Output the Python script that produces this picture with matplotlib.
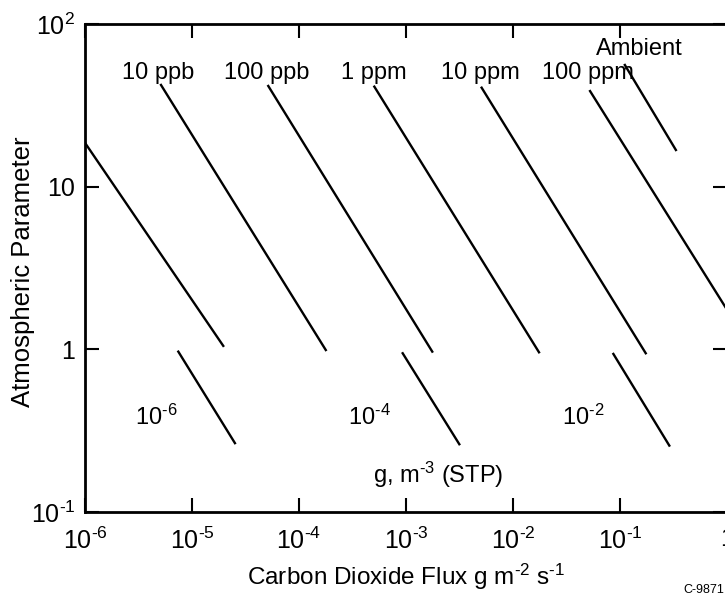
import matplotlib
matplotlib.use("Agg")
import matplotlib.pyplot as plt

plt.rcParams['font.family'] = ['Liberation Sans', 'DejaVu Sans']
plt.rcParams['mathtext.fontset'] = 'custom'
plt.rcParams['mathtext.rm'] = 'Liberation Sans'
plt.rcParams['mathtext.it'] = 'Liberation Sans'
plt.rcParams['mathtext.default'] = 'regular'

H = '\u2010'  # plain hyphen in the exponents, like the original

# mixing-ratio lines (flux vs atmospheric parameter), endpoints
ppm_x0 = [1.0e-6, 5.13e-6, 5.16e-5, 5.06e-4, 5.09e-3, 5.25e-2, 0.111]
ppm_y0 = [18.6, 42.2, 41.6, 41.2, 40.6, 38.7, 56.0]
ppm_x1 = [1.96e-5, 1.78e-4, 1.76e-3, 1.75e-2, 0.174, 1.81, 0.333]
ppm_y1 = [1.05, 0.99, 0.968, 0.959, 0.946, 0.94, 16.8]
ppm_labels = ['10 ppb', '100 ppb', '1 ppm', '10 ppm', '100 ppm', 'Ambient']
ppm_label_x = [4.8e-6, 5.0e-5, 5.0e-4, 5.0e-3, 5.0e-2, 0.15]
ppm_label_y = [50, 50, 50, 50, 50, 70]

# concentration lines, g m^-3 (STP)
conc_x0 = [7.45e-6, 9.31e-4, 8.67e-2]
conc_y0 = [0.968, 0.946, 0.937]
conc_x1 = [2.52e-5, 3.15e-3, 0.289]
conc_y1 = [0.265, 0.261, 0.256]
conc_labels = ['$10^{%s6}$' % H, '$10^{%s4}$' % H, '$10^{%s2}$' % H]
conc_label_x = [4.6e-6, 4.5e-4, 4.5e-2]
conc_label_y = [0.38, 0.38, 0.38]

xticks = [1e-6, 1e-5, 1e-4, 1e-3, 1e-2, 1e-1, 1]
xticklabels = ['$10^{%s6}$' % H, '$10^{%s5}$' % H, '$10^{%s4}$' % H, '$10^{%s3}$' % H,
               '$10^{%s2}$' % H, '$10^{%s1}$' % H, '1']
yticks = [0.1, 1, 10, 100]
yticklabels = ['$10^{%s1}$' % H, '1', '10', '$10^{2}$']

fig = plt.figure(figsize=(7.25, 6.06), dpi=100)
ax = fig.add_axes([85 / 725, 1 - 512 / 606, 642 / 725, 488 / 606])
ax.set_xscale('log')
ax.set_yscale('log')
ax.set_xlim(1e-6, 1)
ax.set_ylim(0.1, 100)

for i in range(len(ppm_x0)):
    ax.plot([ppm_x0[i], ppm_x1[i]], [ppm_y0[i], ppm_y1[i]], color='black', lw=1.7)
for i in range(len(conc_x0)):
    ax.plot([conc_x0[i], conc_x1[i]], [conc_y0[i], conc_y1[i]], color='black', lw=1.7)

for lab, x, y in zip(ppm_labels, ppm_label_x, ppm_label_y):
    ax.text(x, y, lab, ha='center', va='center', fontsize=17)
for lab, x, y in zip(conc_labels, conc_label_x, conc_label_y):
    ax.text(x, y, lab, ha='center', va='center', fontsize=17)
ax.text(2.0e-3, 0.168, 'g, m$^{%s3}$ (STP)' % H, ha='center', va='center', fontsize=17)

ax.set_xticks(xticks)
ax.set_xticklabels(xticklabels)
ax.set_yticks(yticks)
ax.set_yticklabels(yticklabels)
ax.minorticks_off()
ax.tick_params(direction='in', length=10, width=1.5, labelsize=18,
               top=True, right=True)
ax.tick_params(axis='x', pad=11)
ax.tick_params(axis='y', pad=7)
for s in ax.spines.values():
    s.set_linewidth(2)

ax.set_xlabel('Carbon Dioxide Flux g m$^{%s2}$ s$^{%s1}$' % (H, H), fontsize=17.5, labelpad=6)
fig.text(23 / 725, 1 - 272 / 606, 'Atmospheric Parameter', fontsize=18.5,
         rotation=90, ha='center', va='center')
fig.text(683 / 725, 1 - 590 / 606, 'C-9871', fontsize=9, ha='left', va='center')

fig.savefig('out.png', dpi=100)
